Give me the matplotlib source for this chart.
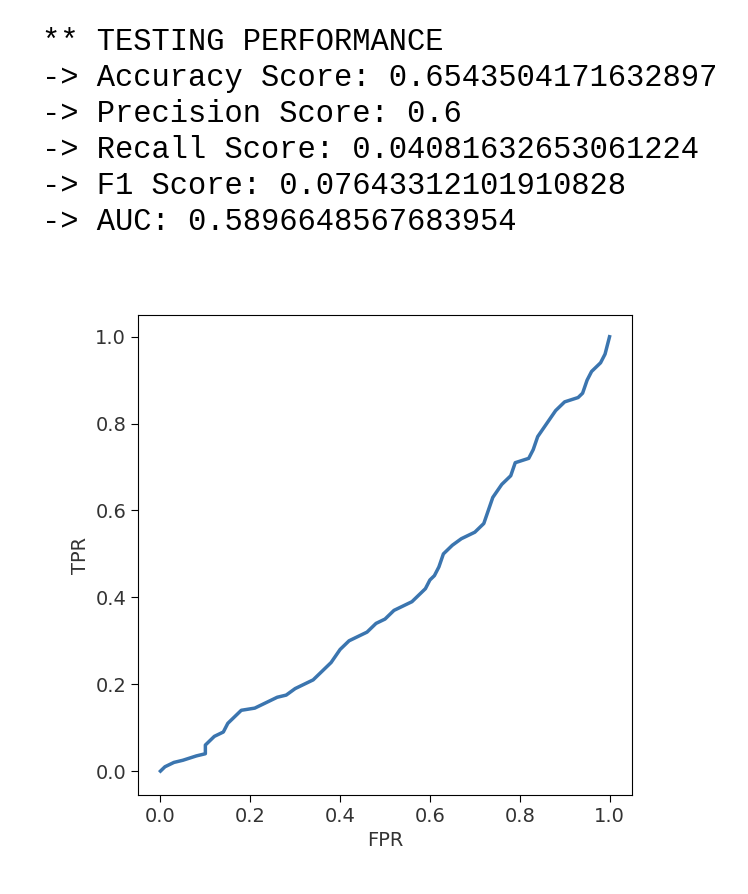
import matplotlib
matplotlib.use("Agg")
import matplotlib.pyplot as plt

lines = ["** TESTING PERFORMANCE",
         "-> Accuracy Score: 0.6543504171632897",
         "-> Precision Score: 0.6",
         "-> Recall Score: 0.04081632653061224",
         "-> F1 Score: 0.07643312101910828",
         "-> AUC: 0.5896648567683954"]

fpr = [0, 0.01, 0.03, 0.05, 0.08, 0.1, 0.1, 0.12, 0.14, 0.15, 0.17, 0.18, 0.21, 0.24, 0.26, 0.28,
       0.3, 0.32, 0.34, 0.36, 0.38, 0.4, 0.42, 0.44, 0.46, 0.48, 0.5, 0.52, 0.54, 0.56, 0.58, 0.59,
       0.6, 0.61, 0.62, 0.63, 0.65, 0.67, 0.7, 0.72, 0.73, 0.74, 0.76, 0.78, 0.79, 0.82, 0.83, 0.84,
       0.86, 0.88, 0.9, 0.93, 0.94, 0.95, 0.96, 0.98, 0.99, 1.0]
tpr = [0, 0.01, 0.02, 0.025, 0.035, 0.04, 0.06, 0.08, 0.09, 0.11, 0.13, 0.14, 0.145, 0.16, 0.17, 0.175,
       0.19, 0.2, 0.21, 0.23, 0.25, 0.28, 0.3, 0.31, 0.32, 0.34, 0.35, 0.37, 0.38, 0.39, 0.41, 0.42,
       0.44, 0.45, 0.47, 0.5, 0.52, 0.535, 0.55, 0.57, 0.6, 0.63, 0.66, 0.68, 0.71, 0.72, 0.74, 0.77,
       0.8, 0.83, 0.85, 0.86, 0.87, 0.9, 0.92, 0.94, 0.96, 1.0]

fig = plt.figure(figsize=(7.48, 8.94), dpi=100)
for i, t in enumerate(lines):
    fig.text(42/748, 1 - (42 + 36*i)/894, t, family="Liberation Mono", fontsize=22,
             va="center", ha="left", color="black")

ax = fig.add_axes([138/748, 99/894, 494/748, 480/894])
ax.plot(fpr, tpr, color="#3b75af", linewidth=2.5)
ax.set_xlim(-0.05, 1.05)
ax.set_ylim(-0.055, 1.05)
ax.set_xticks([0, 0.2, 0.4, 0.6, 0.8, 1.0])
ax.set_yticks([0, 0.2, 0.4, 0.6, 0.8, 1.0])
ax.tick_params(labelsize=14, length=5, labelcolor="#333333")
ax.set_xlabel("FPR", fontsize=14, color="#333333")
ax.set_ylabel("TPR", fontsize=14, color="#333333")
fig.savefig("out.png", dpi=100)
